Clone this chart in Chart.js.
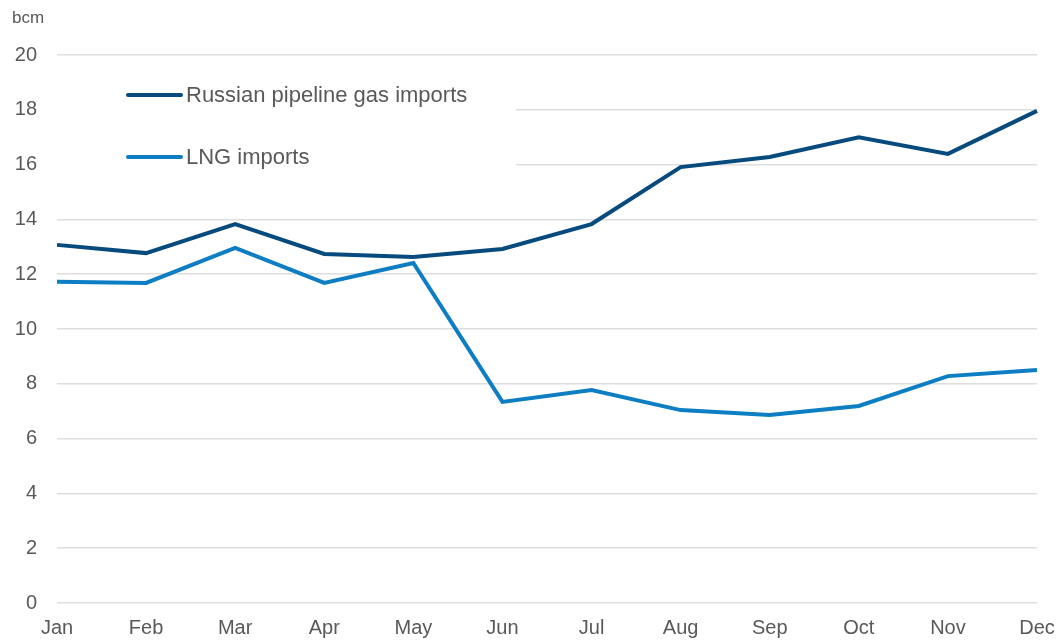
<!DOCTYPE html>
<html>
<head>
<meta charset="utf-8">
<script src="https://cdn.jsdelivr.net/npm/chart.js@4"></script>
<style>
  html, body { margin: 0; padding: 0; background: #fff; }
  .chart-container { position: relative; width: 1056px; height: 640px; }
</style>
</head>
<body>
<div class="chart-container">
  <canvas id="chart"></canvas>
</div>
<script>
const months = ["Jan", "Feb", "Mar", "Apr", "May", "Jun", "Jul", "Aug", "Sep", "Oct", "Nov", "Dec"]
const russianPipeline = [13.07, 12.77, 13.83, 12.74, 12.63, 12.92, 13.83, 15.91, 16.28, 17.0, 16.39, 17.96]
const lngImports = [11.72, 11.68, 12.96, 11.68, 12.41, 7.34, 7.77, 7.04, 6.86, 7.19, 8.28, 8.5]
const seriesNames = ["Russian pipeline gas imports", "LNG imports"]
const unitLabel = "bcm"

const FONT = "'Liberation Sans Narrow', 'Arial Narrow', 'Liberation Sans', sans-serif"
const TEXT_COLOR = "#595959"
const colors = ["#064a7e", "#0d7dc4"]

// Legend drawn inside the plot with a white box that hides the gridlines behind it
const insideLegend = {
  id: "insideLegend",
  beforeDatasetsDraw(chart) {
    const { ctx } = chart
    ctx.save()
    ctx.fillStyle = "#fff"
    ctx.fillRect(56, 70, 460, 125)
    const rows = [95, 157]
    rows.forEach((y, i) => {
      ctx.strokeStyle = colors[i]
      ctx.lineWidth = 4
      ctx.lineCap = "round"
      ctx.beginPath()
      ctx.moveTo(128, y)
      ctx.lineTo(181, y)
      ctx.stroke()
      ctx.fillStyle = TEXT_COLOR
      ctx.font = "22px " + FONT
      ctx.textBaseline = "middle"
      ctx.textAlign = "left"
      ctx.fillText(seriesNames[i], 186, y + 1)
    })
    ctx.font = "17px " + FONT
    ctx.textBaseline = "middle"
    ctx.fillText(unitLabel, 12, 18)
    ctx.restore()
  },
}

const ctx = document.getElementById("chart").getContext("2d")
new Chart(ctx, {
  type: "line",
  data: {
    labels: months,
    datasets: [
      {
        label: seriesNames[0],
        data: russianPipeline,
        borderColor: colors[0],
        borderWidth: 4,
        pointRadius: 0,
        tension: 0,
      },
      {
        label: seriesNames[1],
        data: lngImports,
        borderColor: colors[1],
        borderWidth: 4,
        pointRadius: 0,
        tension: 0,
      },
    ],
  },
  options: {
    responsive: true,
    maintainAspectRatio: false,
    animation: false,
    layout: { padding: { top: 55, right: 19, left: 0, bottom: 0 } },
    plugins: {
      legend: { display: false },
      tooltip: { enabled: false },
    },
    scales: {
      x: {
        offset: false,
        grid: { display: false, drawTicks: false },
        border: { display: false },
        ticks: {
          color: TEXT_COLOR,
          font: { family: FONT, size: 20 },
          padding: 13,
          maxRotation: 0,
          autoSkip: false,
        },
        afterFit: (scale) => {
          scale.height = 37
          scale.paddingLeft = 0
          scale.paddingRight = 0
        },
      },
      y: {
        min: 0,
        max: 20,
        grid: { color: "#dedede", lineWidth: 1.5, drawTicks: false },
        border: { display: false },
        ticks: {
          stepSize: 2,
          color: TEXT_COLOR,
          font: { family: FONT, size: 20 },
          padding: 20,
        },
        afterFit: (scale) => { scale.width = 57 },
      },
    },
  },
  plugins: [insideLegend],
})
</script>
</body>
</html>
